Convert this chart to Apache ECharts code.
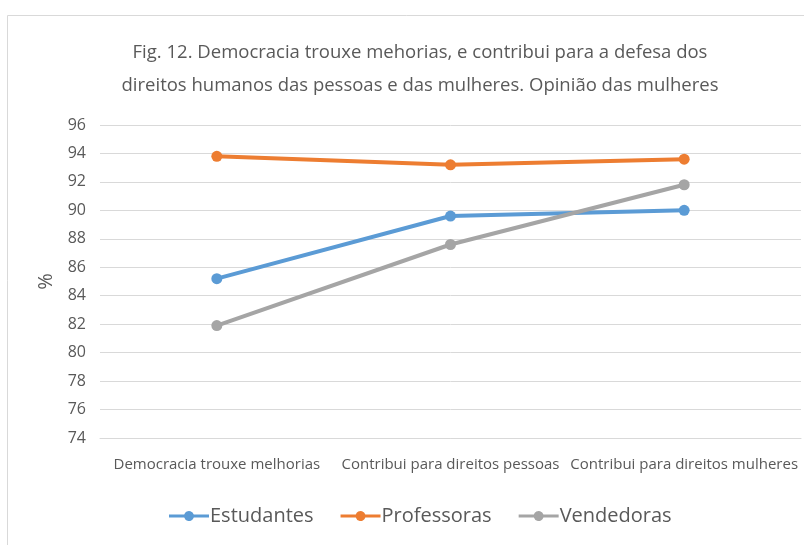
<!DOCTYPE html>
<html>
<head>
<meta charset="utf-8">
<script src="https://cdn.jsdelivr.net/npm/echarts@6/dist/echarts.min.js"></script>
<style>
  html, body { margin: 0; padding: 0; background: #fff; }
  #chart { width: 804px; height: 545px; }
</style>
</head>
<body>
<div id="chart"></div>
<script>
// Data
const categories = [
  "Democracia trouxe melhorias",
  "Contribui para direitos pessoas",
  "Contribui para direitos mulheres",
];
const estudantes = [85.2, 89.6, 90.0];
const professoras = [93.8, 93.2, 93.6];
const vendedoras = [81.9, 87.6, 91.8];
const seriesNames = ["Estudantes", "Professoras", "Vendedoras"];
const seriesColors = ["#5b9bd5", "#ed7d31", "#a5a5a5"];

const font = '"Open Sans", sans-serif';
const chart = echarts.init(document.getElementById("chart"));

const values = [estudantes, professoras, vendedoras];

// line with a dot in the middle, like the Excel legend keys
const legendIcon =
  "path://M0,4.5 L15.23,4.5 A5,5 0 0 1 24.77,4.5 L40,4.5 L40,7.5 L24.77,7.5 A5,5 0 0 1 15.23,7.5 L0,7.5 Z";

const series = seriesNames.map((name, i) => ({
  name: name,
  type: "line",
  data: values[i],
  symbol: "circle",
  symbolSize: 11,
  color: seriesColors[i],
  lineStyle: { width: 4, color: seriesColors[i] },
  itemStyle: { color: seriesColors[i] },
  emphasis: { disabled: true },
}));

const option = {
  animation: false,
  textStyle: { fontFamily: font },
  graphic: [
    {
      type: "rect",
      shape: { x: 7.5, y: 15.5, width: 810, height: 540 },
      style: { fill: "none", stroke: "#d9d9d9", lineWidth: 1 },
      silent: true,
    },
  ],
  title: {
    text: "Fig. 12. Democracia trouxe mehorias, e contribui para a defesa dos\ndireitos humanos das pessoas e das mulheres. Opinião das mulheres",
    left: 415,
    textAlign: "center",
    top: 31,
    textStyle: {
      fontFamily: font,
      fontSize: 18.5,
      fontWeight: "normal",
      color: "#595959",
      lineHeight: 33,
    },
  },
  legend: {
    bottom: 14,
    left: 164,
    itemWidth: 40,
    itemHeight: 12,
    itemGap: 27,
    icon: legendIcon,
    data: seriesNames.map((n, i) => ({
      name: n,
      itemStyle: { color: seriesColors[i] },
    })),
    textStyle: { fontFamily: font, fontSize: 20, color: "#595959", padding: [0, 0, 0, -4] },
  },
  grid: {
    left: 100,
    right: 3,
    top: 125,
    bottom: 107,
  },
  xAxis: {
    type: "category",
    data: categories,
    boundaryGap: true,
    axisLine: { show: true, lineStyle: { color: "#d9d9d9" } },
    axisTick: { show: false },
    axisLabel: {
      color: "#595959",
      fontSize: 15,
      margin: 19,
      interval: 0,
    },
  },
  yAxis: {
    type: "value",
    min: 74,
    max: 96,
    interval: 2,
    name: "%",
    nameLocation: "middle",
    nameGap: 44,
    nameRotate: 90,
    nameTextStyle: { color: "#595959", fontSize: 20, fontFamily: font },
    axisLine: { show: false },
    axisTick: { show: false },
    axisLabel: { color: "#595959", fontSize: 16, margin: 14 },
    splitLine: { lineStyle: { color: "#d9d9d9", width: 1 } },
  },
  series: series,
};

chart.setOption(option);
</script>
</body>
</html>
